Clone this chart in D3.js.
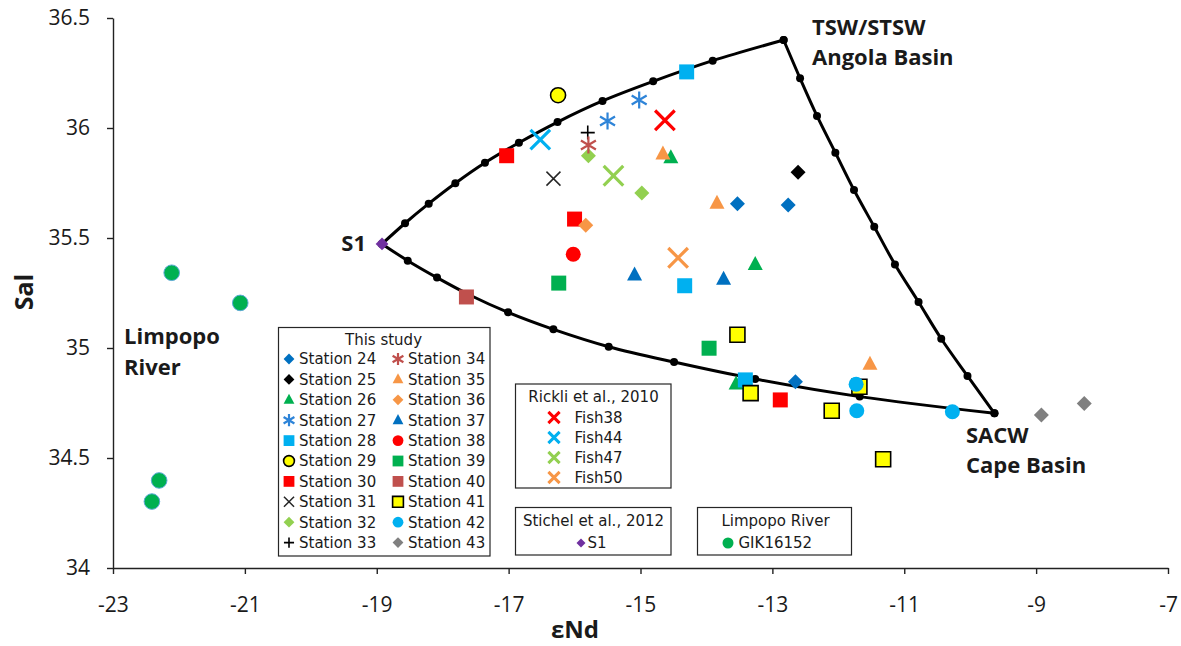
<!DOCTYPE html>
<html>
<head>
<meta charset="utf-8">
<script src="https://cdn.jsdelivr.net/npm/d3@7"></script>
<style>
body { margin: 0; background: #fff; }
svg { display: block; }
</style>
</head>
<body>
<script>
var width = 1181, height = 646;

// axis ticks
var xTicks = [-23, -21, -19, -17, -15, -13, -11, -9, -7];
var yTicks = [34, 34.5, 35, 35.5, 36, 36.5];

// mixing curves (eNd, Sal)
var mixS1toTSW = [[-18.92,35.473],[-18.571,35.567],[-18.212,35.656],[-17.808,35.749],[-17.359,35.842],[-16.844,35.933],[-16.258,36.027],[-15.576,36.123],[-14.808,36.212],[-13.905,36.306],[-12.829,36.400]];
var mixTSWtoSACW = [[-12.829,36.400],[-12.580,36.226],[-12.323,36.055],[-12.045,35.888],[-11.762,35.718],[-11.455,35.551],[-11.141,35.380],[-10.783,35.209],[-10.439,35.042],[-10.041,34.873],[-9.632,34.703]];
var mixS1toSACW = [[-18.92,35.473],[-18.530,35.397],[-18.086,35.320],[-17.591,35.241],[-17.008,35.162],[-16.321,35.085],[-15.482,35.006],[-14.491,34.936],[-13.261,34.859],[-11.676,34.779],[-9.632,34.703]];

// this study
var stationNames = ["Station 24","Station 25","Station 26","Station 27","Station 28","Station 29","Station 30","Station 31","Station 32","Station 33",
                    "Station 34","Station 35","Station 36","Station 37","Station 38","Station 39","Station 40","Station 41","Station 42","Station 43"];
var st24 = [[-13.53,35.656],[-12.76,35.650],[-12.65,34.847]];
var st25 = [[-12.61,35.799]];
var st26 = [[-14.54,35.865],[-13.26,35.380],[-13.55,34.836]];
var st27 = [[-15.50,36.032],[-15.02,36.127]];
var st28 = [[-14.30,36.255],[-14.33,35.283],[-13.41,34.855]];
var st29 = [[-16.25,36.149]];
var st30 = [[-17.03,35.874],[-16.00,35.586],[-12.88,34.764]];
var st31 = [[-16.32,35.770]];
var st32 = [[-15.79,35.874],[-14.98,35.705]];
var st33 = [[-15.80,35.979]];
var st34 = [[-15.79,35.923]];
var st35 = [[-14.66,35.882],[-13.84,35.658],[-11.52,34.926]];
var st36 = [[-15.83,35.558]];
var st37 = [[-15.09,35.332],[-13.74,35.312]];
var st38 = [[-16.02,35.426]];
var st39 = [[-16.24,35.295],[-13.96,34.999]];
var st40 = [[-17.64,35.232]];
var st41 = [[-13.53,35.060],[-13.33,34.795],[-11.68,34.824],[-12.10,34.715],[-11.32,34.494]];
var st42 = [[-11.73,34.835],[-11.72,34.715],[-10.27,34.710]];
var st43 = [[-8.92,34.695],[-8.27,34.748]];
var stationPoints = [st24,st25,st26,st27,st28,st29,st30,st31,st32,st33,st34,st35,st36,st37,st38,st39,st40,st41,st42,st43];

// Rickli et al., 2010
var fishNames = ["Fish38","Fish44","Fish47","Fish50"];
var fishPoints = [[-14.63,36.035],[-16.52,35.947],[-15.41,35.783],[-14.43,35.410]];

// Stichel et al., 2012
var s1Point = [-18.92,35.473];

// Limpopo River
var gikPoints = [[-22.11,35.342],[-21.07,35.205],[-22.30,34.398],[-22.41,34.302]];

// marker look per station (same order as stationNames)
var stationStyle = [
  {shape:'diamond', fill:'#0070C0'},
  {shape:'diamond', fill:'#000000'},
  {shape:'triangle', fill:'#00B050'},
  {shape:'asterisk', stroke:'#2E84D8'},
  {shape:'square', fill:'#00B0F0'},
  {shape:'circle', fill:'#FFFF00', stroke:'#000'},
  {shape:'square', fill:'#FF0000'},
  {shape:'x', stroke:'#262626', sw:1.5},
  {shape:'diamond', fill:'#92D050'},
  {shape:'plus', stroke:'#000'},
  {shape:'asterisk', stroke:'#C0504D'},
  {shape:'triangle', fill:'#F79646'},
  {shape:'diamond', fill:'#F79646'},
  {shape:'triangle', fill:'#0070C0'},
  {shape:'circle', fill:'#FF0000'},
  {shape:'square', fill:'#00B050'},
  {shape:'square', fill:'#C0504D'},
  {shape:'square', fill:'#FFFF00', stroke:'#000'},
  {shape:'circle', fill:'#00B0F0'},
  {shape:'diamond', fill:'#808080'}
];
var fishColors = ['#FF0000','#00B0F0','#92D050','#F79646'];

var svg = d3.select('body').append('svg').attr('width', width).attr('height', height)
  .style('font-family', 'DejaVu Sans');
svg.append('rect').attr('width', width).attr('height', height).attr('fill', '#fff');

var x = d3.scaleLinear().domain([-23, -7]).range([113, 1168]);
var y = d3.scaleLinear().domain([34, 36.5]).range([568, 18]);

// marker shapes, k = scale
function markerPath(shape, k) {
  var h;
  if (shape === 'diamond') { h = 7.5 * k; return 'M0,' + (-h) + 'L' + h + ',0L0,' + h + 'L' + (-h) + ',0Z'; }
  if (shape === 'square') { h = 7.5 * k; return 'M' + (-h) + ',' + (-h) + 'H' + h + 'V' + h + 'H' + (-h) + 'Z'; }
  if (shape === 'triangle') { h = 7.5 * k; return 'M0,' + (-8.5 * k) + 'L' + h + ',' + (5.5 * k) + 'L' + (-h) + ',' + (5.5 * k) + 'Z'; }
  if (shape === 'circle') { h = 7.5 * k; return 'M' + h + ',0A' + h + ',' + h + ' 0 1,1 ' + (-h) + ',0A' + h + ',' + h + ' 0 1,1 ' + h + ',0Z'; }
  if (shape === 'x') { h = 7 * k; return 'M' + (-h) + ',' + (-h) + 'L' + h + ',' + h + 'M' + (-h) + ',' + h + 'L' + h + ',' + (-h); }
  if (shape === 'plus') { h = 7 * k; return 'M' + (-h) + ',0H' + h + 'M0,' + (-h) + 'V' + h; }
  if (shape === 'asterisk') {
    h = 8.5 * k;
    var a = 7.5 * k, b = 4.5 * k;
    return 'M0,' + (-h) + 'V' + h + 'M' + (-a) + ',' + (-b) + 'L' + a + ',' + b + 'M' + (-a) + ',' + b + 'L' + a + ',' + (-b);
  }
}

function drawMarker(g, st, k) {
  var p = g.append('path').attr('d', markerPath(st.shape, k));
  if (st.shape === 'x' || st.shape === 'plus' || st.shape === 'asterisk') {
    p.attr('fill', 'none').attr('stroke', st.stroke)
      .attr('stroke-width', st.sw || (st.shape === 'asterisk' ? 2.2 : 1.6));
  } else {
    p.attr('fill', st.fill);
    if (st.stroke) p.attr('stroke', st.stroke).attr('stroke-width', 1.6);
  }
  return p;
}

// axes
var xAxis = svg.append('g').attr('transform', 'translate(0,568)')
  .call(d3.axisBottom(x).tickValues(xTicks).tickSize(6).tickSizeOuter(0).tickPadding(23)
    .tickFormat(function(d) { return String(d); }));
var yAxis = svg.append('g').attr('transform', 'translate(113,0)')
  .call(d3.axisLeft(y).tickValues(yTicks).tickSize(6).tickSizeOuter(0).tickPadding(17)
    .tickFormat(function(d) { return String(d); }));
[xAxis, yAxis].forEach(function(a) {
  a.select('.domain').attr('stroke', '#222').attr('stroke-width', 1.4);
  a.selectAll('.tick line').attr('stroke', '#222').attr('stroke-width', 1.4);
  a.selectAll('.tick text').attr('font-family', 'Open Sans').attr('font-size', 21).attr('fill', '#1a1a1a');
});

svg.append('text').attr('x', 575).attr('y', 638).attr('text-anchor', 'middle')
  .attr('font-family', 'Open Sans').attr('font-weight', 700).attr('font-size', 24).attr('fill', '#1a1a1a').text('εNd');
svg.append('text').attr('transform', 'translate(33,292) rotate(-90)').attr('text-anchor', 'middle')
  .attr('font-family', 'Open Sans').attr('font-weight', 700).attr('font-size', 25).attr('fill', '#1a1a1a').text('Sal');

// mixing curves
var line = d3.line().x(function(d) { return x(d[0]); }).y(function(d) { return y(d[1]); })
  .curve(d3.curveCatmullRom.alpha(0.5));
[mixS1toTSW, mixTSWtoSACW, mixS1toSACW].forEach(function(c) {
  svg.append('path').datum(c).attr('d', line).attr('fill', 'none').attr('stroke', '#000').attr('stroke-width', 3);
  svg.append('g').selectAll('circle').data(c).join('circle')
    .attr('cx', function(d) { return x(d[0]); }).attr('cy', function(d) { return y(d[1]); })
    .attr('r', 4).attr('fill', '#000');
});

// Limpopo River points
svg.append('g').selectAll('circle').data(gikPoints).join('circle')
  .attr('cx', function(d) { return x(d[0]); }).attr('cy', function(d) { return y(d[1]); })
  .attr('r', 7.8).attr('fill', '#00B050').attr('stroke', '#5BA9D6').attr('stroke-width', 1);

// S1
drawMarker(svg.append('g').attr('transform', 'translate(' + x(s1Point[0]) + ',' + y(s1Point[1]) + ')'),
  {shape:'diamond', fill:'#7030A0'}, 0.85);

// stations
stationPoints.forEach(function(pts, i) {
  pts.forEach(function(d) {
    drawMarker(svg.append('g').attr('transform', 'translate(' + x(d[0]) + ',' + y(d[1]) + ')'), stationStyle[i], 1);
  });
});

// Rickli fish
fishPoints.forEach(function(d, i) {
  drawMarker(svg.append('g').attr('transform', 'translate(' + x(d[0]) + ',' + y(d[1]) + ')'),
    {shape:'x', stroke:fishColors[i], sw:3.2}, 1.4);
});

// annotations
function label(txt, px, cy, anchor) {
  svg.append('text').attr('x', px).attr('y', cy + 7.8).attr('text-anchor', anchor || 'start')
    .attr('font-family', 'Open Sans').attr('font-weight', 700).attr('font-size', 22).attr('fill', '#1a1a1a').text(txt);
}
label('TSW/STSW', 812, 27);
label('Angola Basin', 812, 57);
label('SACW', 966, 435);
label('Cape Basin', 966, 465);
label('S1', 366, 243, 'end');
label('Limpopo', 124, 336);
label('River', 124, 367);

// legends
function box(x0, y0, w, h) {
  var g = svg.append('g').attr('transform', 'translate(' + x0 + ',' + y0 + ')');
  g.append('rect').attr('width', w).attr('height', h).attr('fill', '#fff').attr('stroke', '#262626').attr('stroke-width', 1.2);
  return g;
}
function ltext(g, txt, px, cy, anchor) {
  g.append('text').attr('x', px).attr('y', cy + 5.3).attr('text-anchor', anchor || 'start')
    .attr('font-size', 15).attr('fill', '#1a1a1a').text(txt);
}

var lg1 = box(278.5, 327.5, 211.5, 228.5);
ltext(lg1, 'This study', 105, 12, 'middle');
stationNames.forEach(function(name, i) {
  var col = Math.floor(i / 10), row = i % 10;
  var mx = col === 0 ? 10.5 : 119.5, cy = 31.5 + row * 20.4;
  drawMarker(lg1.append('g').attr('transform', 'translate(' + mx + ',' + cy + ')'), stationStyle[i], 0.72);
  ltext(lg1, name, mx + 10, cy);
});

var lg2 = box(515.5, 384, 155.5, 104);
ltext(lg2, 'Rickli et al., 2010', 78, 13, 'middle');
fishNames.forEach(function(name, i) {
  var cy = 33.5 + i * 20;
  drawMarker(lg2.append('g').attr('transform', 'translate(38.5,' + cy + ')'), {shape:'x', stroke:fishColors[i], sw:3}, 0.8);
  ltext(lg2, name, 59, cy);
});

var lg3 = box(515.5, 507.5, 155.5, 47.5);
ltext(lg3, 'Stichel et al., 2012', 78, 13.5, 'middle');
drawMarker(lg3.append('g').attr('transform', 'translate(65.5,35.5)'), {shape:'diamond', fill:'#7030A0'}, 0.6);
ltext(lg3, 'S1', 72, 35.5);

var lg4 = box(697.5, 507.5, 154, 47.5);
ltext(lg4, 'Limpopo River', 78, 13.5, 'middle');
lg4.append('circle').attr('cx', 30.5).attr('cy', 35.5).attr('r', 5.5).attr('fill', '#00B050');
ltext(lg4, 'GIK16152', 41, 35.5);
</script>
</body>
</html>
